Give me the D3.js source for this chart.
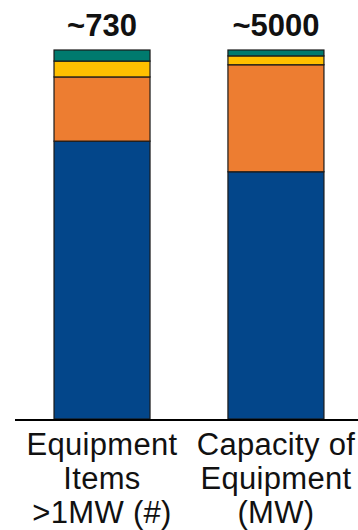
<!DOCTYPE html>
<html>
<head>
<meta charset="utf-8">
<script src="https://cdn.jsdelivr.net/npm/d3@7"></script>
<style>
  html, body { margin: 0; padding: 0; background: #fff; }
  svg { display: block; }
</style>
</head>
<body>
<svg id="chart" width="358" height="530"></svg>
<script>
// Categories (each label split across lines)
const categories = ["items", "capacity"];
const categoryLines = [
  ["Equipment", "Items", ">1MW (#)"],
  ["Capacity of", "Equipment", "(MW)"]
];
const totals = ["~730", "~5000"];

// Stacked shares (% of each bar), bottom to top
const seriesNames = ["blue", "orange", "yellow", "teal"];
const blueShare   = [75.3, 67.0];
const orangeShare = [17.4, 29.0];
const yellowShare = [4.3, 2.4];
const tealShare   = [3.0, 1.6];
const seriesColors = ["#03468A", "#ED7D31", "#FFC000", "#007A6E"];

const rows = categories.map((c, i) => ({
  cat: c,
  blue: blueShare[i],
  orange: orangeShare[i],
  yellow: yellowShare[i],
  teal: tealShare[i]
}));

const svg = d3.select("#chart");

const x = d3.scaleBand()
  .domain(categories)
  .range([15, 358])
  .paddingInner(0.448)
  .paddingOuter(0.21)
  .align(0.534);

const y = d3.scaleLinear().domain([0, 100]).range([419, 50]);

const stack = d3.stack().keys(seriesNames);
const layers = stack(rows);

svg.append("g")
  .selectAll("g")
  .data(layers)
  .join("g")
  .attr("fill", (d, i) => seriesColors[i])
  .selectAll("rect")
  .data(d => d)
  .join("rect")
  .attr("x", d => x(d.data.cat))
  .attr("width", x.bandwidth())
  .attr("y", d => y(d[1]))
  .attr("height", d => y(d[0]) - y(d[1]))
  .attr("stroke", "#1a1a1a")
  .attr("stroke-width", 1.2);

// Baseline
svg.append("line")
  .attr("x1", 15).attr("x2", 358)
  .attr("y1", y(0) + 1).attr("y2", y(0) + 1)
  .attr("stroke", "#000")
  .attr("stroke-width", 2);

// Totals above bars
svg.append("g")
  .selectAll("text")
  .data(categories)
  .join("text")
  .attr("x", d => x(d) + x.bandwidth() / 2)
  .attr("y", 36)
  .attr("text-anchor", "middle")
  .attr("font-family", "Liberation Sans, Arial, sans-serif")
  .attr("font-weight", "bold")
  .attr("font-size", 31)
  .attr("fill", "#111")
  .text((d, i) => totals[i]);

// Category labels
const lab = svg.append("g")
  .selectAll("text")
  .data(categories)
  .join("text")
  .attr("text-anchor", "middle")
  .attr("font-family", "Liberation Sans, Arial, sans-serif")
  .attr("font-size", 31)
  .attr("letter-spacing", 0.3)
  .attr("fill", "#111");

lab.selectAll("tspan")
  .data((d, i) => categoryLines[i].map(t => ({ t, cat: d })))
  .join("tspan")
  .attr("x", d => x(d.cat) + x.bandwidth() / 2)
  .attr("y", (d, j) => 455 + j * 34)
  .text(d => d.t);
</script>
</body>
</html>
